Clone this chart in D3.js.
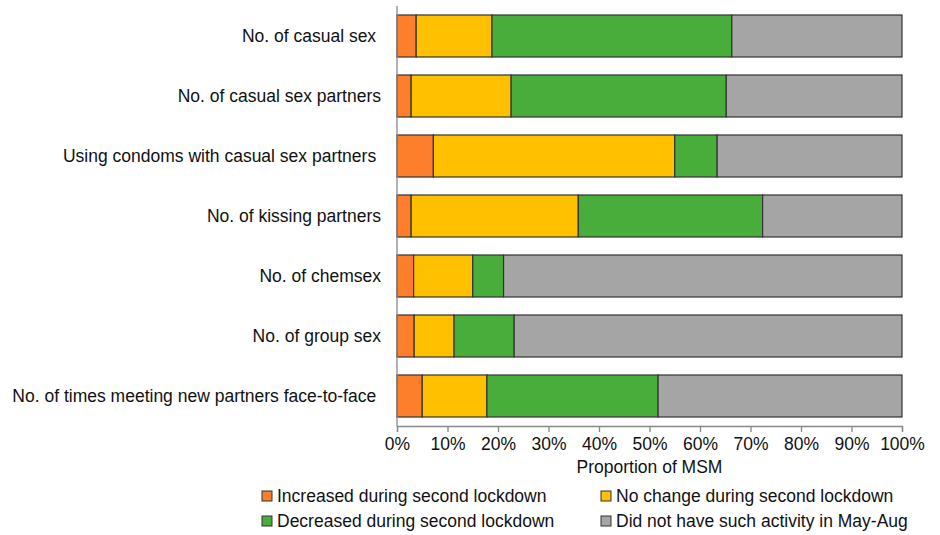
<!DOCTYPE html>
<html>
<head>
<meta charset="utf-8">
<script src="https://cdn.jsdelivr.net/npm/d3@7"></script>
<style>
  body { margin: 0; background: #fff; }
  text { font-family: "Liberation Sans", Arial, sans-serif; fill: #111; }
</style>
</head>
<body>
<svg id="chart"></svg>
<script>
const width = 940, height = 535;
const margin = { top: 6, left: 397, right: 38, bottom: 109 };
const fontSize = "17.5px";

// Data (percent of MSM)
const categories = [
    "No. of casual sex ",
    "No. of casual sex partners",
    "Using condoms with casual sex partners ",
    "No. of kissing partners",
    "No. of chemsex",
    "No. of group sex",
    "No. of times meeting new partners face-to-face "
];
const increased = [3.8, 2.8, 7.2, 2.8, 3.3, 3.4, 5.0];
const noChange  = [15.0, 19.8, 47.8, 33.1, 11.7, 7.9, 12.8];
const decreased = [47.5, 42.6, 8.4, 36.5, 6.1, 11.9, 33.9];
const noActivity = [33.7, 34.8, 36.6, 27.6, 78.9, 76.8, 48.3];

const seriesNames = [
    "Increased during second lockdown",
    "No change during second lockdown",
    "Decreased during second lockdown",
    "Did not have such activity in May-Aug"
];
const seriesColors = ["#FD7F2C", "#FFC000", "#49AD3C", "#A5A5A5"];
const xTicks = [0, 10, 20, 30, 40, 50, 60, 70, 80, 90, 100];

const svg = d3.select("#chart")
    .attr("width", width)
    .attr("height", height);

// Build rows for the stack
const rows = categories.map((c, i) => ({
    cat: c,
    s0: increased[i], s1: noChange[i], s2: decreased[i], s3: noActivity[i]
}));
const stacked = d3.stack().keys(["s0", "s1", "s2", "s3"])(rows);

const x = d3.scaleLinear()
    .domain([0, 100])
    .range([margin.left, width - margin.right]);

const y = d3.scaleBand()
    .domain(categories)
    .range([margin.top, height - margin.bottom])
    .paddingInner(0.3)
    .paddingOuter(0.15);

// Bars
svg.append("g").selectAll("g")
    .data(stacked)
    .enter().append("g")
    .attr("fill", (d, i) => seriesColors[i])
    .selectAll("rect")
    .data(d => d)
    .enter().append("rect")
    .attr("x", d => x(d[0]))
    .attr("y", d => y(d.data.cat))
    .attr("width", d => x(d[1]) - x(d[0]))
    .attr("height", y.bandwidth())
    .attr("stroke", "#333")
    .attr("stroke-width", 1.2);

// Y axis line
svg.append("line")
    .attr("x1", margin.left).attr("x2", margin.left)
    .attr("y1", margin.top).attr("y2", height - margin.bottom)
    .attr("stroke", "#888").attr("stroke-width", 1.3);

// Category labels
svg.append("g").selectAll("text")
    .data(categories)
    .enter().append("text")
    .attr("x", margin.left - 16)
    .attr("y", d => y(d) + y.bandwidth() / 2)
    .attr("dy", "0.35em")
    .attr("text-anchor", "end")
    .style("white-space", "pre")
    .style("font-size", fontSize)
    .text(d => d);

// X axis
const xAxis = svg.append("g")
    .attr("transform", `translate(0, ${height - margin.bottom})`)
    .call(d3.axisBottom(x).tickValues(xTicks).tickFormat(d => d + "%").tickSize(6).tickPadding(6));
xAxis.select(".domain").attr("stroke", "#888").attr("stroke-width", 1.3);
xAxis.selectAll(".tick line").attr("stroke", "#888").attr("stroke-width", 1.3);
xAxis.selectAll("text")
    .style("font-size", fontSize)
    .style("font-family", "Liberation Sans, Arial, sans-serif")
    .attr("fill", "#111");

// X axis title
svg.append("text")
    .attr("x", (x(0) + x(100)) / 2)
    .attr("y", 473)
    .attr("text-anchor", "middle")
    .style("font-size", fontSize)
    .text("Proportion of MSM");

// Legend
const legendPos = [[262, 496], [601, 496], [262, 521], [601, 521]];
const legend = svg.selectAll(".legend")
    .data(seriesNames)
    .enter().append("g")
    .attr("class", "legend")
    .attr("transform", (d, i) => `translate(${legendPos[i][0]}, ${legendPos[i][1]})`);

legend.append("rect")
    .attr("x", 0).attr("y", -5)
    .attr("width", 10).attr("height", 10)
    .attr("fill", (d, i) => seriesColors[i])
    .attr("stroke", "#333");

legend.append("text")
    .attr("x", 15)
    .attr("dy", "0.35em")
    .style("font-size", fontSize)
    .text(d => d);
</script>
</body>
</html>
